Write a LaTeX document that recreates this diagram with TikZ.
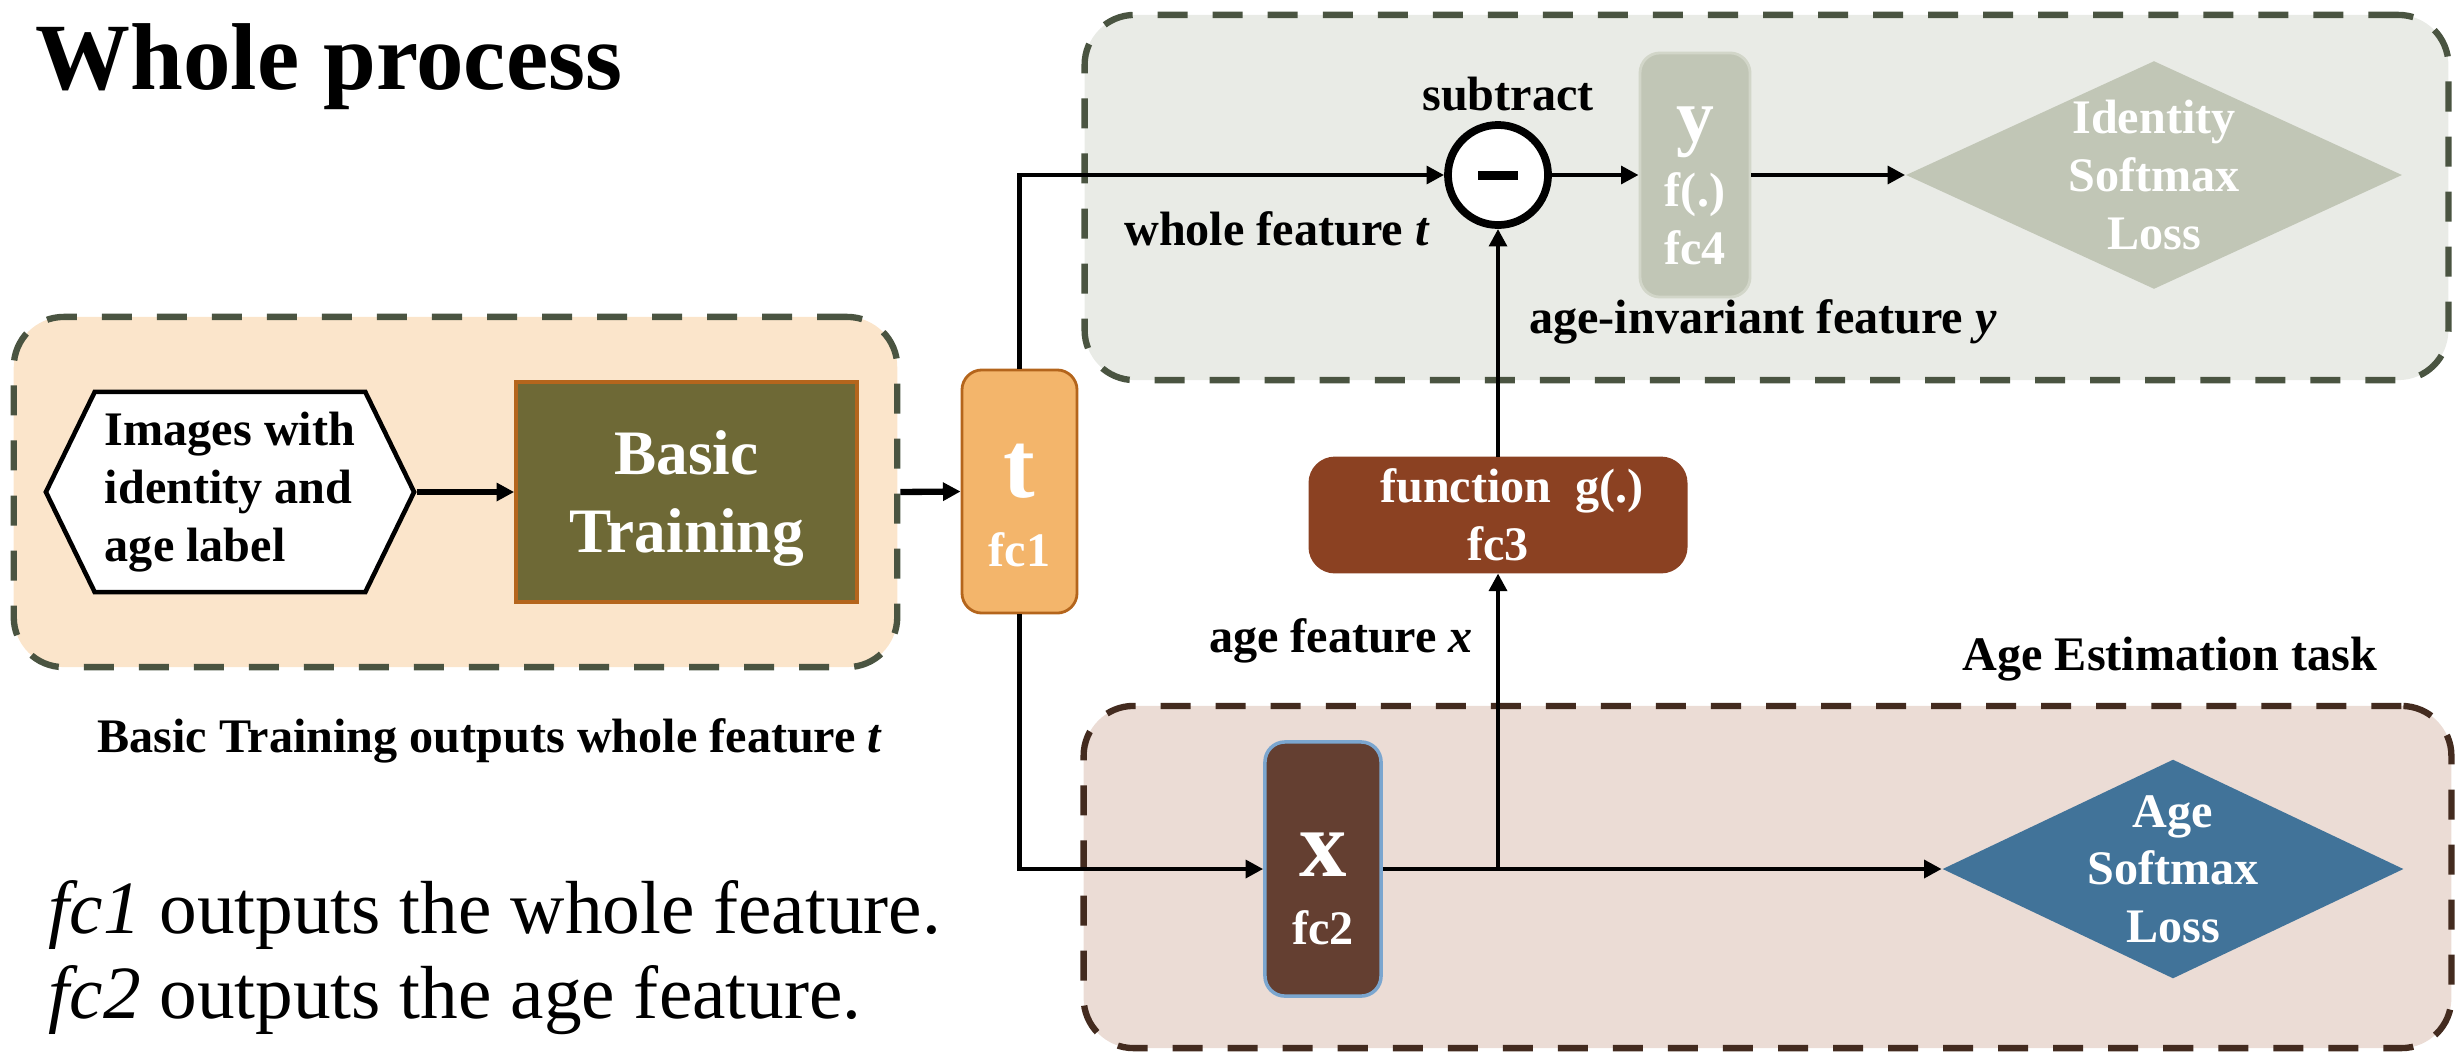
\documentclass[tikz,border=0pt]{standalone}
\usepackage{fontspec}
\setmainfont{Liberation Serif}
\usetikzlibrary{arrows.meta,shapes.geometric,shapes.symbols}

\definecolor{beigefill}{HTML}{FBE5CB}
\definecolor{greyfill}{HTML}{E9EBE6}
\definecolor{rosefill}{HTML}{EBDCD5}
\definecolor{olivedash}{HTML}{4A5441}
\definecolor{browndash}{HTML}{432B1F}
\definecolor{basicolive}{HTML}{6E6936}
\definecolor{rimorange}{HTML}{B4651C}
\definecolor{fcorange}{HTML}{F3B56B}
\definecolor{sage}{HTML}{C1C6B6}
\definecolor{sagerim}{HTML}{D2D6C9}
\definecolor{rust}{HTML}{8B4122}
\definecolor{cocoa}{HTML}{643F31}
\definecolor{skyrim}{HTML}{7BA6CF}
\definecolor{steel}{HTML}{417399}

\newcommand{\lblfont}{\fontsize{13.7pt}{16.4pt}\selectfont\bfseries}
\newcommand{\bigletter}{\fontsize{27pt}{30pt}\selectfont\bfseries}
\newcommand{\midletter}{\fontsize{21.5pt}{24pt}\selectfont\bfseries}
\newcommand{\basicfont}{\fontsize{18pt}{22pt}\selectfont\bfseries}
\newcommand{\titlefont}{\fontsize{27pt}{32pt}\selectfont\bfseries}
\newcommand{\notefont}{\fontsize{21.4pt}{24pt}\selectfont\mdseries}
\newcommand{\topgap}[1]{\rule{0pt}{#1}}

\begin{document}
\begin{tikzpicture}
[x=0.01cm, y=-0.01cm,
 font=\lblfont,
 arr/.style={-{Triangle[length=5pt,width=5pt]}, line width=1.3pt},
 thickarr/.style={arr, line width=1.8pt},
 container/.style={draw, line width=1.8pt, dash pattern=on 0.3cm off 0.25cm,
                   rounded corners=0.5cm, inner sep=0pt},
 fcbox/.style={draw, line width=0.8pt, rounded corners=0.2cm, text=white,
               align=center, inner sep=0pt},
 lossdiam/.style={diamond, inner sep=0pt},
 losstext/.style={text=white, align=center, inner sep=0pt},
 note/.style={inner sep=0pt, anchor=base}]
\useasboundingbox (0,0) rectangle (2458,1060);

% dashed task regions
\node[container, draw=olivedash, fill=beigefill,
      minimum width=8.83cm, minimum height=3.5cm] (basiccont) at (455.5,492) {};
\node[container, draw=olivedash, fill=greyfill,
      minimum width=13.63cm, minimum height=3.65cm] (idcont) at (1766.5,197.5) {};
\node[container, draw=browndash, fill=rosefill,
      minimum width=13.67cm, minimum height=3.42cm] (agecont) at (1767.5,877) {};

% basic training
\node[signal, signal to=west and east, signal pointer angle=128,
      draw, line width=1.3pt, fill=white, align=left, inner sep=0pt,
      minimum width=3.68cm, minimum height=2cm] (imgs) at (230,492)
  {Images with\\identity and\\age label};
\node[draw=rimorange, line width=1pt, fill=basicolive, text=white,
      font=\basicfont, align=center, inner sep=0pt,
      minimum width=3.41cm, minimum height=2.2cm] (basic) at (686.5,492)
  {\topgap{16.2pt}Basic\\Training};
\node[fcbox, draw=rimorange, fill=fcorange,
      minimum width=1.15cm, minimum height=2.43cm] (fcone) at (1019.5,491.5)
  {\topgap{23.4pt}{\bigletter t}\\[3.2pt]fc1};

% identity branch
\node[circle, draw, line width=2.2pt, fill=white, inner sep=0pt,
      minimum size=1cm] (sub) at (1498,175) {\rule{0.4cm}{0.09cm}};
\node[fcbox, draw=sagerim, fill=sage,
      minimum width=1.1cm, minimum height=2.44cm] (fcfour) at (1695,175)
  {\topgap{15.9pt}{\midletter y}\\[2.1pt]f(.)\\fc4};
\node[lossdiam, fill=sage, minimum width=4.96cm, minimum height=2.28cm]
  (idloss) at (2154,175) {};
\node[losstext] (idlosstext) at (idloss) {Identity\\Softmax\\Loss};

% age branch
\node[fcbox, draw=rust, fill=rust, rounded corners=0.25cm,
      minimum width=3.76cm, minimum height=1.14cm] (fcthree) at (1498,515)
  {\hspace{0.28cm}function~~g(.)\\fc3};
\node[fcbox, draw=skyrim, line width=1pt, fill=cocoa,
      minimum width=1.16cm, minimum height=2.54cm] (fctwo) at (1323,869)
  {\topgap{23.5pt}{\bigletter x}\\[2.9pt]fc2};
\node[lossdiam, fill=steel, minimum width=4.61cm, minimum height=2.19cm]
  (ageloss) at (2173,869) {};
\node[losstext] (agelosstext) at (ageloss) {Age\\Softmax\\Loss};

% connectors
\draw[thickarr] (imgs.east) -- (basic.west);
\draw[thickarr] (basiccont.east) -- (fcone.west);
\draw[arr] (fcone.north) |- (sub.west);
\draw[arr] (fcone.south) |- (fctwo.west);
\draw[arr] (sub.east) -- (fcfour.west);
\draw[arr] (fcfour.east) -- (idloss.west);
\draw[arr] (fctwo.east) -- (ageloss.west);
\draw[arr] (fctwo.east -| fcthree.south) -- (fcthree.south);
\draw[arr] (fcthree.north) -- (sub.south);

% labels
\node[inner sep=0pt, anchor=base west, font=\titlefont] (title) at (35,89) {Whole process};
\node[note] (basicnote) at (490,752) {Basic Training outputs whole feature \textit{t}};
\node[note] (subnote) at (1508,110) {subtract};
\node[note] (wholenote) at (1277,245) {whole feature \textit{t}};
\node[note] (invnote) at (1763,333) {age-invariant feature \textit{y}};
\node[note] (agefnote) at (1341,652) {age feature \textit{x}};
\node[note] (tasknote) at (2170,670) {Age Estimation task};
\node[inner sep=0pt, anchor=base west, font=\notefont] (notea) at (48,933)
  {\textit{fc1} outputs the whole feature.};
\node[inner sep=0pt, anchor=base west, font=\notefont] (noteb) at (48,1018)
  {\textit{fc2} outputs the age feature.};
\end{tikzpicture}
\end{document}
